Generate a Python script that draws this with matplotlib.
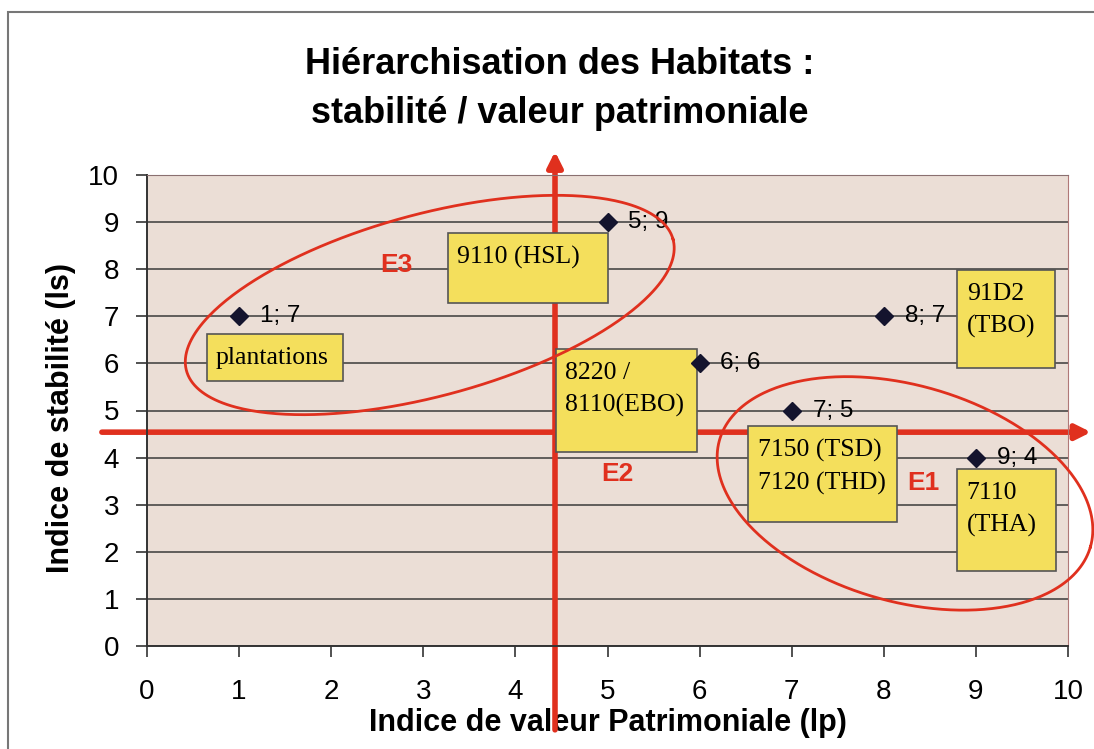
import numpy as np
import matplotlib
matplotlib.use("Agg")
import matplotlib.pyplot as plt
from matplotlib.patches import Rectangle

# habitats: indice de valeur patrimoniale (Ip) / indice de stabilite (Is)
ip_values = [1, 5, 6, 7, 8, 9]
is_values = [7, 9, 6, 5, 7, 4]
point_labels = ["1; 7", "5; 9", "6; 6", "7; 5", "8; 7", "9; 4"]

# yellow habitat boxes: (x0, y0, x1, y1) in data units, text
box_texts = ["plantations", "9110 (HSL)", "8220 /\n8110(EBO)", "91D2\n(TBO)",
             "7150 (TSD)\n7120 (THD)", "7110\n(THA)"]
box_extents = [(0.65, 5.63, 2.13, 6.62), (3.27, 7.28, 5.00, 8.77),
               (4.44, 4.12, 5.97, 6.30), (8.80, 5.90, 9.86, 7.98),
               (6.53, 2.63, 8.14, 4.68), (8.80, 1.60, 9.87, 3.76)]

group_names = ["E3", "E2", "E1"]
group_pos = [(2.71, 8.09), (5.11, 3.65), (8.43, 3.46)]

# quadrant axes crossing point
cross_x = 4.43
cross_y = 4.54

red = "#e0301e"

fig = plt.figure(figsize=(10.94, 7.49), dpi=100)
fig.patch.set_facecolor("white")
ax = fig.add_axes([147 / 1094, 1 - 646 / 749, (1068 - 147) / 1094, (646 - 175) / 749])
ax.set_facecolor("#ebded6")
ax.set_xlim(0, 10)
ax.set_ylim(0, 10)
ax.set_xticks(range(11))
ax.set_yticks(range(11))
ax.tick_params(direction="out", length=8, width=1.2, colors="#333333", labelsize=20,
               labelcolor="black")
ax.tick_params(axis="x", pad=16)
ax.tick_params(axis="y", pad=12)
for lab in ax.get_xticklabels() + ax.get_yticklabels():
    lab.set_fontfamily("Liberation Sans")
ax.yaxis.grid(True, color="#3a3a3a", linewidth=1.1)
ax.set_axisbelow(True)
ax.spines["left"].set_color("#333333")
ax.spines["bottom"].set_color("#333333")
ax.spines["left"].set_linewidth(1.4)
ax.spines["bottom"].set_linewidth(1.4)
ax.spines["top"].set_color("#8a7070")
ax.spines["right"].set_color("#b07878")

# outer frame
fig.add_artist(Rectangle((8 / 1094, -0.01), 1.1, 1 - 12 / 749 + 0.01, transform=fig.transFigure,
                         fill=False, edgecolor="#777777", linewidth=1.5))

# red quadrant arrows
ax.annotate("", xy=(10.25, cross_y), xytext=(-0.49, cross_y), annotation_clip=False,
            arrowprops=dict(arrowstyle="-|>,head_length=0.9,head_width=0.45", color=red,
                            lw=4, shrinkA=0, shrinkB=0), zorder=2)
ax.annotate("", xy=(cross_x, 10.5), xytext=(cross_x, -1.78), annotation_clip=False,
            arrowprops=dict(arrowstyle="-|>,head_length=0.9,head_width=0.45", color=red,
                            lw=4, shrinkA=0, shrinkB=0), zorder=2)

# boxes
for (x0, y0, x1, y1), txt in zip(box_extents, box_texts):
    ax.add_patch(Rectangle((x0, y0), x1 - x0, y1 - y0, facecolor="#f4df5c",
                           edgecolor="#555555", linewidth=1.2, zorder=3))
    ax.text(x0 + 0.1, y1 - 0.28, txt, ha="left", va="top", fontsize=18.5,
            family="Liberation Serif", linespacing=1.55, zorder=4)

# points
ax.plot(ip_values, is_values, linestyle="none", marker="D", markersize=9,
        color="#14142e", zorder=5)
for x, y, lab in zip(ip_values, is_values, point_labels):
    ax.annotate(lab, (x, y), xytext=(15, 0), textcoords="offset points", va="center",
                ha="left", fontsize=17.5, family="Liberation Sans", zorder=5)

# group ellipses (center in data units, semi-axes in pixels, angle in degrees)
ellipses = [((3.07, 7.24), 252, 91, 15.1), ((8.23, 3.24), 193, 108, -16.1)]
fig.canvas.draw()
t = np.linspace(0, 2 * np.pi, 400)
for (cx, cy), a, b, ang in ellipses:
    th = np.radians(ang)
    px, py = ax.transData.transform((cx, cy))
    ex = px + a * np.cos(t) * np.cos(th) - b * np.sin(t) * np.sin(th)
    ey = py + a * np.cos(t) * np.sin(th) + b * np.sin(t) * np.cos(th)
    pts = ax.transData.inverted().transform(np.column_stack([ex, ey]))
    ax.plot(pts[:, 0], pts[:, 1], color=red, lw=2, zorder=6, clip_on=False)

for name, (x, y) in zip(group_names, group_pos):
    ax.text(x, y, name, color=red, fontsize=19, fontweight="bold", ha="center",
            va="center", family="Liberation Sans", zorder=6)

ax.set_xlabel("Indice de valeur Patrimoniale (lp)", fontsize=22, fontweight="bold",
              family="Liberation Sans", labelpad=2)
ax.set_ylabel("Indice de stabilité (ls)", fontsize=22, fontweight="bold",
              family="Liberation Sans")
ax.yaxis.set_label_coords(-0.077, 0.484)

fig.text(0.512, 0.881, "Hiérarchisation des Habitats :\nstabilité / valeur patrimoniale",
         ha="center", va="center", fontsize=26, fontweight="bold",
         family="Liberation Sans", linespacing=1.5)

fig.savefig("out.png", dpi=100)
